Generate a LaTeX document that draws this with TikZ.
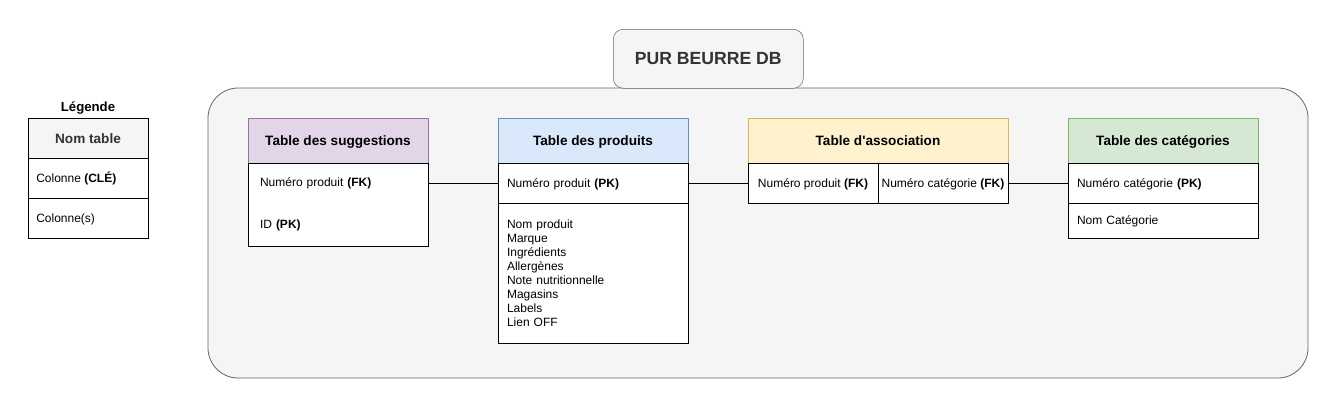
\documentclass[tikz,border=0pt]{standalone}
\usepackage{fontspec}
\setmainfont{Liberation Sans}
\usetikzlibrary{positioning}

% Couleurs des tables
\definecolor{fondgris}{HTML}{F5F5F5}
\definecolor{bordgris}{HTML}{666666}
\definecolor{textegris}{HTML}{333333}
\definecolor{violetfond}{HTML}{E1D5E7}
\definecolor{violetbord}{HTML}{9673A6}
\definecolor{bleufond}{HTML}{DAE8FC}
\definecolor{bleubord}{HTML}{6C8EBF}
\definecolor{jaunefond}{HTML}{FFF2CC}
\definecolor{jaunebord}{HTML}{D6B656}
\definecolor{vertfond}{HTML}{D5E8D4}
\definecolor{vertbord}{HTML}{82B366}

\tikzset{
  cellule/.style={draw=black, fill=white, outer sep=0pt, inner sep=0pt,
    font=\fontsize{9}{10.5}\selectfont},
  simple/.style={text height=8pt, text depth=2pt},
  entete/.style={draw, outer sep=0pt, inner sep=0pt, anchor=north west,
    minimum height=33.75pt, text height=9pt, text depth=1pt,
    font=\bfseries\fontsize{10.2}{12}\selectfont},
  ligne/.style={cellule, align=left, text width=#1},
  lien/.style={draw=black, line width=0.6pt}
}

\begin{document}
\begin{tikzpicture}[x=0.75pt, y=-0.75pt, node distance=0pt]
\useasboundingbox (0,0) rectangle (1338,408);

% Cadre principal
\draw[draw=bordgris, fill=fondgris, rounded corners=22.5pt, line width=0.6pt]
  (208,88) rectangle (1308,378);
\node[draw=bordgris, fill=fondgris, rounded corners=7.5pt, anchor=north west,
  minimum width=142.5pt, minimum height=44.25pt, inner sep=0pt,
  font=\bfseries\fontsize{13.2}{15}\selectfont, text=textegris] (titre)
  at (613,29) {PUR BEURRE DB};

% Légende
\node[font=\bfseries\fontsize{9.9}{11}\selectfont] (legende) at (88,108) {Légende};
\node[entete, draw=black, fill=fondgris, minimum width=90pt, minimum height=30pt,
  text=textegris] (leg-tete) at (28,118) {Nom table};
\node[cellule, minimum width=90pt, minimum height=30pt, below=of leg-tete] (leg-cle) {};
\node[font=\fontsize{9}{11}\selectfont, simple, inner sep=0pt, anchor=west]
  at ([xshift=6pt]leg-cle.west) {Colonne \textbf{(CLÉ)}};
\node[cellule, minimum width=90pt, minimum height=30pt, below=of leg-cle] (leg-col) {};
\node[font=\fontsize{9}{11}\selectfont, simple, inner sep=0pt, anchor=west]
  at ([xshift=6pt]leg-col.west) {Colonne(s)};

% Table des suggestions
\node[entete, draw=violetbord, fill=violetfond, minimum width=135pt] (sugg-tete)
  at (248,118) {Table des suggestions};
\node[ligne=117pt, minimum height=62.25pt, inner xsep=9pt, below=of sugg-tete] (sugg-corps)
  {Numéro produit \textbf{(FK)}\\[21pt]ID \textbf{(PK)}};

% Table des produits
\node[entete, draw=bleubord, fill=bleufond, minimum width=142.5pt] (prod-tete)
  at (498,118) {Table des produits};
\node[ligne=129pt, simple, minimum height=30pt, inner xsep=6.75pt, below=of prod-tete] (prod-pk)
  {Numéro produit \textbf{(PK)}};
\node[ligne=129pt, minimum height=105pt, inner xsep=6.75pt, below=of prod-pk] (prod-attr)
  {Nom produit\\Marque\\Ingrédients\\Allergènes\\Note nutritionnelle\\Magasins\\Labels\\Lien OFF};

% Table d'association
\node[entete, draw=jaunebord, fill=jaunefond, minimum width=195pt] (asso-tete)
  at (748,118) {Table d\textquotesingle association};
\node[cellule, simple, minimum width=97.5pt, minimum height=30pt, anchor=north west] (asso-prod)
  at (asso-tete.south west) {Numéro produit \textbf{(FK)}};
\node[cellule, simple, minimum width=97.5pt, minimum height=30pt, right=of asso-prod] (asso-cat)
  {Numéro catégorie \textbf{(FK)}};

% Table des catégories
\node[entete, draw=vertbord, fill=vertfond, minimum width=142.5pt] (cat-tete)
  at (1068,118) {Table des catégories};
\node[ligne=129pt, simple, minimum height=30pt, inner xsep=6.75pt, below=of cat-tete] (cat-pk)
  {Numéro catégorie \textbf{(PK)}};
\node[ligne=129pt, simple, minimum height=26.25pt, inner xsep=6.75pt, below=of cat-pk] (cat-nom)
  {Nom Catégorie};

% Liens entre les tables
\draw[lien] (sugg-corps.east |- prod-pk.west) -- (prod-pk.west);
\draw[lien] (prod-pk.east) -- (asso-prod.west);
\draw[lien] (asso-cat.east) -- (cat-pk.west);
\end{tikzpicture}
\end{document}
